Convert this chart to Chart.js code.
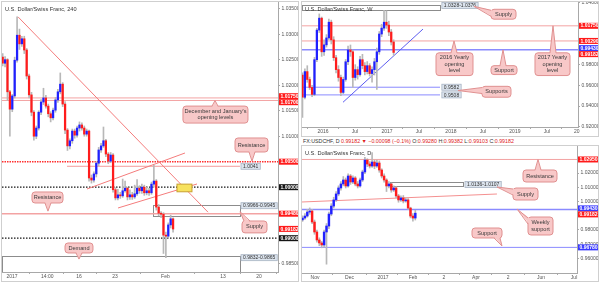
<!DOCTYPE html>
<html>
<head>
<meta charset="utf-8">
<script src="https://cdn.jsdelivr.net/npm/chart.js@4.4.0/dist/chart.umd.min.js"></script>
<style>
body { margin:0; width:600px; height:282px; background:#fff; position:relative; overflow:hidden; font-family:"Liberation Sans", Arial, sans-serif; }
.pane { position:absolute; border:1px solid #cfcfcf; }
.pane canvas { display:block; }
#head { position:absolute; left:303px; top:137px; font-size:5.3px; line-height:8px; color:#333; white-space:nowrap; }
#head .r { color:#e02020; }
</style>
</head>
<body>
<div class="pane" style="left:1px;top:1px;width:296px;height:279px"><canvas id="h4" width="296" height="279"></canvas></div>
<div class="pane" style="left:301px;top:1px;width:296px;height:134px"><canvas id="wk" width="296" height="134"></canvas></div>
<div id="head">FX:USDCHF, D <span class="r">0.99182 ▼ −0.00098 (−0.1%)</span> O:<span class="r">0.99280</span> H:<span class="r">0.99382</span> L:<span class="r">0.99103</span> C:<span class="r">0.99182</span></div>
<div class="pane" style="left:301px;top:145px;width:296px;height:135px"><canvas id="dy" width="296" height="135"></canvas></div>
<script>
const FONT = '"Liberation Sans", Arial, sans-serif';
const UP = '#2020ff', DOWN = '#ff1c1c', WICK = '#b8b8b8';
const PINK = '#f3a3a3', RED = '#ff1a1a', BLUE = '#8a8aff', DARK = '#151515';

// ---- 240 (4 hour) candles, two bars per candle ----
const h4FirstOpen = 1.0255;
const h4Close = [1.0243, 1.0250, 1.0187, 1.0153, 1.0179, 1.0249, 1.0298, 1.0281, 1.0291, 1.0269,
  1.0218, 1.0181, 1.0147, 1.0100, 1.0116, 1.0147, 1.0167, 1.0175, 1.0159, 1.0144,
  1.0136, 1.0151, 1.0171, 1.0187, 1.0202, 1.0163, 1.0112, 1.0081, 1.0091, 1.0110,
  1.0102, 1.0116, 1.0122, 1.0116, 1.0104, 1.0110, 1.0018, 1.0014, 1.0026, 1.0047,
  1.0073, 1.0081, 1.0091, 1.0065, 1.0051, 1.0063, 0.9995, 0.9979, 0.9985, 0.9983,
  0.9993, 0.9998, 0.9981, 0.9985, 0.9981, 0.9987, 0.9998, 0.9993, 1.0000, 0.9989,
  0.9993, 0.9989, 1.0006, 1.0012, 0.9961, 0.9949, 0.9947, 0.9906, 0.9904, 0.9926,
  0.9938, 0.9918];
const h4High = [1.0262, 1.0256, 1.0252, 1.0190, 1.0182, 1.0255, 1.0334, 1.0310, 1.0296, 1.0296,
  1.0272, 1.0222, 1.0186, 1.0150, 1.0120, 1.0150, 1.0172, 1.0194, 1.0180, 1.0163,
  1.0148, 1.0155, 1.0176, 1.0192, 1.0224, 1.0205, 1.0168, 1.0115, 1.0095, 1.0114,
  1.0114, 1.0120, 1.0128, 1.0126, 1.0120, 1.0114, 1.0112, 1.0024, 1.0030, 1.0050,
  1.0078, 1.0086, 1.0118, 1.0094, 1.0068, 1.0068, 1.0066, 0.9999, 0.9996, 0.9990,
  1.0016, 1.0012, 1.0000, 0.9995, 0.9990, 1.0004, 1.0015, 1.0003, 1.0006, 1.0004,
  1.0000, 0.9998, 1.0010, 1.0043, 1.0015, 0.9966, 0.9952, 0.9950, 0.9912, 0.9930,
  0.9945, 0.9940];
const h4Low = [1.0238, 1.0236, 1.0170, 1.0100, 1.0148, 1.0175, 1.0245, 1.0270, 1.0276, 1.0262,
  1.0212, 1.0175, 1.0140, 1.0092, 1.0095, 1.0112, 1.0142, 1.0162, 1.0155, 1.0138,
  1.0128, 1.0132, 1.0147, 1.0166, 1.0183, 1.0158, 1.0105, 1.0072, 1.0075, 1.0086,
  1.0096, 1.0098, 1.0110, 1.0112, 1.0100, 1.0100, 1.0012, 1.0008, 1.0010, 1.0020,
  1.0042, 1.0068, 1.0078, 1.0060, 1.0046, 1.0048, 0.9990, 0.9975, 0.9975, 0.9978,
  0.9980, 0.9990, 0.9975, 0.9976, 0.9976, 0.9978, 0.9984, 0.9988, 0.9988, 0.9984,
  0.9985, 0.9984, 0.9986, 1.0000, 0.9955, 0.9944, 0.9940, 0.9870, 0.9862, 0.9900,
  0.9920, 0.9912];
const h4TickPos = [0.7, 5.6, 10, 15, 22, 30, 35];
const h4TickText = ['2017', '14:00', '16', '23', 'Feb', '13', '20'];
const h4PriceTicks = [1.035, 1.03, 1.025, 1.02, 1.015, 1.01, 0.985];

// ---- weekly candles ----
const wkFirstOpen = 0.9700;
const wkClose = [0.9485, 0.9733, 0.9657, 0.9580, 0.9513, 0.9848, 1.0134, 1.0249, 0.9924, 0.9991,
  1.0058, 1.0210, 1.0039, 0.9867, 0.9752, 0.9676, 0.9532, 0.9657, 0.9828, 0.9943,
  0.9924, 0.9676, 0.9752, 0.9704, 0.9848, 0.9790, 0.9733, 0.9790, 0.9714, 0.9752,
  0.9828, 0.9924, 1.0096, 1.0153, 1.0210, 1.0182, 1.0115, 1.0019, 0.9918];
const wkHigh = [0.9720, 0.9760, 0.9790, 0.9680, 0.9600, 0.9870, 1.0150, 1.0290, 1.0260, 1.0040,
  1.0090, 1.0240, 1.0230, 1.0070, 0.9890, 0.9790, 0.9700, 0.9680, 0.9850, 0.9980,
  0.9990, 0.9940, 0.9800, 0.9780, 0.9880, 0.9900, 0.9820, 0.9830, 0.9810, 0.9780,
  0.9860, 0.9960, 1.0120, 1.0190, 1.0325, 1.0320, 1.0220, 1.0140, 1.0040];
const wkLow = [0.9290, 0.9470, 0.9630, 0.9560, 0.9490, 0.9500, 0.9830, 1.0110, 0.9880, 0.9890,
  0.9970, 1.0040, 1.0000, 0.9840, 0.9720, 0.9640, 0.9500, 0.9520, 0.9640, 0.9800,
  0.9880, 0.9580, 0.9650, 0.9660, 0.9690, 0.9760, 0.9700, 0.9710, 0.9690, 0.9630,
  0.9700, 0.9560, 0.9900, 1.0070, 1.0130, 1.0150, 1.0080, 0.9990, 0.9890];
const wkTickPos = [0, 6, 12, 18, 24, 30, 36, 42, 47.6];
const wkTickText = ['2016', 'Jul', '2017', 'Jul', '2018', 'Jul', '2019', 'Jul', '20'];
const wkPriceTicks = [1.04, 0.98, 0.96, 0.94, 0.92];

// ---- daily candles ----
const dFirstOpen = 0.9870;
const dClose = [0.9884, 0.9898, 0.9926, 0.9933, 0.9856, 0.9786, 0.9730, 0.9709, 0.9695, 0.9786,
  0.9828, 0.9912, 0.9968, 1.0011, 1.0053, 1.0095, 1.0123, 1.0151, 1.0109, 1.0179,
  1.0137, 1.0165, 1.0123, 1.0109, 1.0151, 1.0207, 1.0291, 1.0263, 1.0249, 1.0277,
  1.0249, 1.0270, 1.0221, 1.0179, 1.0151, 1.0109, 1.0123, 1.0081, 1.0095, 1.0039,
  1.0011, 1.0025, 1.0004, 1.0011, 0.9954, 0.9898, 0.9884, 0.9918];
const dHigh = [0.9900, 0.9915, 0.9945, 0.9955, 0.9945, 0.9870, 0.9800, 0.9745, 0.9720, 0.9800,
  0.9845, 0.9925, 0.9985, 1.0030, 1.0070, 1.0110, 1.0140, 1.0175, 1.0165, 1.0195,
  1.0190, 1.0180, 1.0175, 1.0140, 1.0165, 1.0220, 1.0310, 1.0300, 1.0280, 1.0344,
  1.0290, 1.0290, 1.0285, 1.0230, 1.0195, 1.0160, 1.0140, 1.0130, 1.0110, 1.0105,
  1.0050, 1.0040, 1.0042, 1.0025, 1.0020, 0.9960, 0.9915, 0.9938];
const dLow = [0.9860, 0.9875, 0.9890, 0.9910, 0.9845, 0.9770, 0.9715, 0.9690, 0.9675, 0.9680,
  0.9560, 0.9810, 0.9900, 0.9955, 1.0000, 1.0040, 1.0080, 1.0110, 1.0095, 1.0100,
  1.0120, 1.0125, 1.0110, 1.0095, 1.0100, 1.0140, 1.0195, 1.0245, 1.0235, 1.0240,
  1.0230, 1.0240, 1.0205, 1.0165, 1.0135, 1.0070, 1.0095, 1.0065, 1.0070, 1.0025,
  0.9995, 1.0000, 0.9990, 0.9995, 0.9945, 0.9885, 0.9862, 0.9870];
const dTickPos = [0, 23, 45.3, 65.3, 86, 107.3, 128.7, 150.7, 172.7];
const dTickText = ['Nov', 'Dec', '2017', 'Feb', '2', 'Apr', '2', 'Jun', 'Jul'];
const dPriceTicks = [1.02, 1.01, 1.00, 0.98, 0.97, 0.96];

function rrect(ctx, x, y, w, h, r) {
  ctx.beginPath();
  ctx.moveTo(x + r, y);
  ctx.lineTo(x + w - r, y); ctx.quadraticCurveTo(x + w, y, x + w, y + r);
  ctx.lineTo(x + w, y + h - r); ctx.quadraticCurveTo(x + w, y + h, x + w - r, y + h);
  ctx.lineTo(x + r, y + h); ctx.quadraticCurveTo(x, y + h, x, y + h - r);
  ctx.lineTo(x, y + r); ctx.quadraticCurveTo(x, y, x + r, y);
  ctx.closePath();
}

function callout(ctx, X, Y, c) {
  const l = X(c.x1), r = X(c.x2), t = Y(c.y1), b = Y(c.y2);
  const tx = X(c.tx), ty = Y(c.ty), hw = 3;
  const dx = tx < l ? l - tx : (tx > r ? tx - r : 0);
  const dy = ty < t ? t - ty : (ty > b ? ty - b : 0);
  let p1, p2, q1, q2;
  if (dy >= dx) {
    const cx = Math.min(Math.max(tx, l + hw + 2), r - hw - 2);
    const ey = ty < t ? t : b, inn = ty < t ? 1.2 : -1.2;
    p1 = [cx - hw, ey]; p2 = [cx + hw, ey]; q1 = [cx - hw, ey + inn]; q2 = [cx + hw, ey + inn];
  } else {
    const cy = Math.min(Math.max(ty, t + hw + 1), b - hw - 1);
    const ex = tx < l ? l : r, inn = tx < l ? 1.2 : -1.2;
    p1 = [ex, cy - hw]; p2 = [ex, cy + hw]; q1 = [ex + inn, cy - hw]; q2 = [ex + inn, cy + hw];
  }
  ctx.fillStyle = '#f8c8c8'; ctx.strokeStyle = '#e09090'; ctx.lineWidth = 1;
  rrect(ctx, l, t, r - l, b - t, 3); ctx.fill(); ctx.stroke();
  ctx.beginPath(); ctx.moveTo(q1[0], q1[1]); ctx.lineTo(tx, ty); ctx.lineTo(q2[0], q2[1]); ctx.closePath(); ctx.fill();
  ctx.beginPath(); ctx.moveTo(p1[0], p1[1]); ctx.lineTo(tx, ty); ctx.lineTo(p2[0], p2[1]); ctx.stroke();
  ctx.fillStyle = '#3a3a3a'; ctx.font = '5.6px ' + FONT; ctx.textAlign = 'center'; ctx.textBaseline = 'middle';
  const lh = 6.4, y0 = (t + b) / 2 - (c.text.length - 1) * lh / 2;
  c.text.forEach((s, k) => ctx.fillText(s, (l + r) / 2, y0 + k * lh));
}

function overlay(p) {
  return {
    id: 'ov_' + p.id,
    beforeDatasetsDraw(chart) {
      const ctx = chart.ctx, a = chart.chartArea;
      const X = v => chart.scales.x.getPixelForValue(v), Y = v => chart.scales.y.getPixelForValue(v);
      ctx.save();
      ctx.beginPath(); ctx.rect(a.left, a.top, a.right - a.left, a.bottom - a.top); ctx.clip();
      (p.zones || []).forEach(z => {
        ctx.strokeStyle = '#8c8c8c'; ctx.lineWidth = 1;
        ctx.strokeRect(Math.round(X(z.x1)) + 0.5, Math.round(Y(z.hi)) + 0.5, Math.round(X(z.x2) - X(z.x1)), Math.round(Y(z.lo) - Y(z.hi)));
      });
      (p.lines || []).forEach(h => {
        const x1 = h.x1 === undefined ? a.left : X(h.x1), x2 = h.x2 === undefined ? a.right : X(h.x2);
        const y = Y(h.v);
        ctx.strokeStyle = h.c; ctx.lineWidth = h.w; ctx.setLineDash(h.dash || []);
        ctx.beginPath(); ctx.moveTo(x1, y); ctx.lineTo(x2, y); ctx.stroke();
      });
      ctx.setLineDash([]);
      (p.trends || []).forEach(t => {
        ctx.strokeStyle = t.c; ctx.lineWidth = 1;
        ctx.beginPath(); ctx.moveTo(X(t.x1), Y(t.v1)); ctx.lineTo(X(t.x2), Y(t.v2)); ctx.stroke();
      });
      ctx.restore();
    },
    afterDraw(chart) {
      const ctx = chart.ctx, a = chart.chartArea;
      const X = v => chart.scales.x.getPixelForValue(v), Y = v => chart.scales.y.getPixelForValue(v);
      ctx.save();
      (p.boxes || []).forEach(bx => {
        ctx.fillStyle = '#f7e25e'; ctx.strokeStyle = '#c8a030'; ctx.lineWidth = 1;
        ctx.fillRect(X(bx.x1), Y(bx.hi), X(bx.x2) - X(bx.x1), Y(bx.lo) - Y(bx.hi));
        ctx.strokeRect(X(bx.x1), Y(bx.hi), X(bx.x2) - X(bx.x1), Y(bx.lo) - Y(bx.hi));
      });
      ctx.font = '5px ' + FONT; ctx.textBaseline = 'middle'; ctx.textAlign = 'left';
      (p.zoneTags || []).forEach(z => {
        const w = ctx.measureText(z.text).width + 4, x = X(z.x), y = Y(z.v);
        ctx.fillStyle = '#dce4ee'; ctx.strokeStyle = '#a8b4c4'; ctx.lineWidth = 0.8;
        ctx.fillRect(x, y - 3, w, 6); ctx.strokeRect(x, y - 3, w, 6);
        ctx.fillStyle = '#333'; ctx.fillText(z.text, x + 2, y + 0.3);
      });
      (p.callouts || []).forEach(c => callout(ctx, X, Y, c));
      // title
      ctx.fillStyle = '#333'; ctx.font = '5.6px ' + FONT; ctx.textAlign = 'left'; ctx.textBaseline = 'middle';
      ctx.fillText(p.title, a.left + 3, a.top + 7);
      // price tags on the axis
      const H = 6;
      const tags = p.tags.map(t => Object.assign({ y: Y(t.v) }, t)).sort((m, n) => m.y - n.y);
      for (let pass = 0; pass < 4; pass++) {
        for (let k = 1; k < tags.length; k++) {
          if (tags[k].y - tags[k - 1].y < H) {
            const mid = (tags[k].y + tags[k - 1].y) / 2;
            tags[k - 1].y = mid - H / 2; tags[k].y = mid + H / 2;
          }
        }
      }
      ctx.font = 'bold 5px ' + FONT;
      tags.forEach(t => {
        ctx.fillStyle = t.bg;
        ctx.fillRect(a.right + 1, t.y - H / 2, chart.width - a.right - 1, H);
        ctx.fillStyle = '#fff';
        ctx.fillText(t.text, a.right + 2.5, t.y + 0.3);
      });
      ctx.restore();
    }
  };
}

function makeChart(p) {
  const xs = p.close.map((c, i) => p.start + p.step * i);
  const opens = p.close.map((c, i) => i ? p.close[i - 1] : p.firstOpen);
  return new Chart(document.getElementById(p.id), {
    type: 'bar',
    data: {
      datasets: [
        { data: xs.map((x, i) => ({ x: x, y: [p.low[i], p.high[i]] })), backgroundColor: WICK,
          barThickness: 1, grouped: false, order: 2 },
        { data: xs.map((x, i) => ({ x: x, y: [opens[i], p.close[i]] })),
          backgroundColor: p.close.map((c, i) => c >= opens[i] ? UP : DOWN),
          barThickness: p.bodyW, grouped: false, minBarLength: 1, order: 1 }
      ]
    },
    options: {
      responsive: false, animation: false, devicePixelRatio: 1,
      layout: { padding: 0 },
      plugins: { legend: { display: false }, tooltip: { enabled: false } },
      scales: {
        x: {
          type: 'linear', min: p.xMin, max: p.xMax, offset: false,
          grid: { color: 'rgba(0,0,0,0)', drawOnChartArea: false, tickColor: '#aaa', tickLength: 2 },
          border: { display: true, color: '#a8a8a8' },
          ticks: { autoSkip: false, maxRotation: 0, padding: 0, color: '#555', font: { family: FONT, size: 5 },
            callback: (v, i) => p.xText[i] },
          afterBuildTicks: ax => { ax.ticks = p.xPos.map(v => ({ value: v })); },
          afterFit: ax => { ax.height = p.xH; ax.paddingLeft = 0; ax.paddingRight = 0; }
        },
        y: {
          position: 'right', min: p.yMin, max: p.yMax,
          grid: { color: 'rgba(0,0,0,0)', drawOnChartArea: false, tickColor: '#aaa', tickLength: 2 },
          border: { display: true, color: '#a8a8a8' },
          ticks: { padding: 1.5, color: '#555', font: { family: FONT, size: 5 }, callback: v => v.toFixed(5) },
          afterBuildTicks: ax => { ax.ticks = p.yTicks.map(v => ({ value: v })); },
          afterFit: ax => { ax.width = p.yW; ax.paddingTop = 0; ax.paddingBottom = 0; }
        }
      }
    },
    plugins: [overlay(p)]
  });
}

makeChart({
  id: 'h4', title: 'U.S. Dollar/Swiss Franc, 240',
  start: -0.6, step: 1 / 3, bodyW: 1.6,
  firstOpen: h4FirstOpen, close: h4Close, high: h4High, low: h4Low,
  xMin: -0.694, xMax: 37.64, yMin: 0.98337, yMax: 1.03631, xH: 9, yW: 20,
  xPos: h4TickPos, xText: h4TickText, yTicks: h4PriceTicks,
  zones: [
    { x1: 20.28, x2: 32.36, lo: 0.9945, hi: 0.9966 },
    { x1: -0.694, x2: 32.36, lo: 0.9832, hi: 0.9865 }
  ],
  lines: [
    { v: 1.0175, c: PINK, w: 1 }, { v: 1.0170, c: PINK, w: 1 },
    { v: 1.0050, c: '#ff3030', w: 1.5, dash: [1.5, 1] },
    { v: 1.0041, x1: 8.33, x2: 32.36, c: '#f29a9a', w: 1 },
    { v: 1.0000, c: DARK, w: 1.2, dash: [1.5, 1.5] },
    { v: 0.9948, c: PINK, w: 1.5 },
    { v: 0.9900, c: DARK, w: 1.2, dash: [1.5, 1.5] }
  ],
  trends: [
    { x1: 1.53, v1: 1.0334, x2: 27.92, v2: 0.9951, c: '#f47c7c' },
    { x1: 11.11, v1: 0.99965, x2: 24.72, v2: 1.0067, c: '#f47c7c' },
    { x1: 15.42, v1: 0.99592, x2: 26.39, v2: 1.00063, c: '#f47c7c' }
  ],
  boxes: [{ x1: 23.61, x2: 25.69, lo: 0.9991, hi: 1.0006 }],
  zoneTags: [
    { x: 32.5, v: 1.0041, text: '1.0041' },
    { x: 32.5, v: 0.99637, text: '0.9966-0.9945' },
    { x: 32.5, v: 0.98618, text: '0.9832-0.9865' }
  ],
  callouts: [
    { x1: 24.44, x2: 33.47, y1: 1.0159, y2: 1.01257, tx: 28.89, ty: 1.0170, text: ["December and January's", 'opening levels'] },
    { x1: 31.67, x2: 36.25, y1: 1.00965, y2: 1.0069, tx: 34.03, ty: 1.0051, text: ['Resistance'] },
    { x1: 3.47, x2: 7.78, y1: 0.99906, y2: 0.9969, tx: 5.69, ty: 0.9953, text: ['Resistance'] },
    { x1: 32.64, x2: 36.11, y1: 0.99337, y2: 0.99104, tx: 32.36, ty: 0.9952, text: ['Supply'] },
    { x1: 8.06, x2: 11.94, y1: 0.98906, y2: 0.9871, tx: 10.0, ty: 0.9859, text: ['Demand'] }
  ],
  tags: [
    { v: 1.0175, bg: RED, text: '1.01750' }, { v: 1.0170, bg: RED, text: '1.01700' },
    { v: 1.0050, bg: RED, text: '1.00500' }, { v: 1.0000, bg: DARK, text: '1.00000' },
    { v: 0.9948, bg: RED, text: '0.99480' }, { v: 0.99182, bg: RED, text: '0.99182' },
    { v: 0.9900, bg: DARK, text: '0.99000' }
  ]
});

makeChart({
  id: 'wk', title: 'U.S. Dollar/Swiss Franc, W',
  start: -3.85, step: 0.45, bodyW: 1.6,
  firstOpen: wkFirstOpen, close: wkClose, high: wkHigh, low: wkLow,
  xMin: -3.94, xMax: 47.84, yMin: 0.9198, yMax: 1.0405, xH: 9, yW: 20,
  xPos: wkTickPos, xText: wkTickText, yTicks: wkPriceTicks,
  zones: [{ x1: -3.94, x2: 21.95, lo: 1.0328, hi: 1.0376 }],
  lines: [
    { v: 1.0175, c: PINK, w: 1 }, { v: 1.0029, c: PINK, w: 1 },
    { v: 0.9943, c: BLUE, w: 1.5 },
    { v: 0.9582, x2: 21.95, c: BLUE, w: 1 }, { v: 0.9508, x2: 21.95, c: BLUE, w: 1 }
  ],
  trends: [{ x1: 3.75, v1: 0.94368, x2: 18.76, v2: 1.01436, c: '#5c5cf0' }],
  zoneTags: [
    { x: 22.3, v: 1.0372, text: '1.0328-1.0376' },
    { x: 22.3, v: 0.9582, text: '0.9582' },
    { x: 22.3, v: 0.9508, text: '0.9508' }
  ],
  callouts: [
    { x1: 31.52, x2: 36.21, y1: 1.03346, y2: 1.02391, tx: 28.33, ty: 1.0363, text: ['Supply'] },
    { x1: 21.2, x2: 28.14, y1: 0.99143, y2: 0.96947, tx: 24.58, ty: 1.0029, text: ['2016 Yearly', 'opening', 'level'] },
    { x1: 31.52, x2: 36.4, y1: 0.97902, y2: 0.97042, tx: 33.77, ty: 0.9943, text: ['Support'] },
    { x1: 39.77, x2: 46.34, y1: 0.99143, y2: 0.96947, tx: 43.15, ty: 1.0175, text: ['2017 Yearly', 'opening', 'level'] },
    { x1: 29.83, x2: 35.27, y1: 0.95908, y2: 0.94857, tx: 25.33, ty: 0.9550, text: ['Supports'] }
  ],
  tags: [
    { v: 1.0175, bg: RED, text: '1.01750' }, { v: 1.0029, bg: RED, text: '1.00290' },
    { v: 0.9943, bg: '#3a3aff', text: '0.99430' }, { v: 0.99182, bg: RED, text: '0.99182' }
  ]
});

makeChart({
  id: 'dy', title: 'U.S. Dollar/Swiss Franc, D',
  start: -8.33, step: 1.6, bodyW: 1.8,
  firstOpen: dFirstOpen, close: dClose, high: dHigh, low: dLow,
  xMin: -8.67, xMax: 174.67, yMin: 0.94982, yMax: 1.03895, xH: 8, yW: 21,
  xPos: dTickPos, xText: dTickText, yTicks: dPriceTicks,
  zones: [{ x1: 50, x2: 98.67, lo: 1.0107, hi: 1.0136 }],
  lines: [
    { v: 1.0295, c: PINK, w: 1 },
    { v: 0.9943, c: BLUE, w: 1.5 },
    { v: 0.9678, c: BLUE, w: 1 }
  ],
  trends: [{ x1: -8.67, v1: 0.99965, x2: 121.3, v2: 1.00526, c: '#f49090' }],
  zoneTags: [{ x: 100, v: 1.0119, text: '1.0136-1.0107' }],
  callouts: [
    { x1: 138.67, x2: 161.33, y1: 1.02211, y2: 1.01368, tx: 148.67, ty: 1.0295, text: ['Resistance'] },
    { x1: 132, x2: 148.67, y1: 1.00947, y2: 1.00105, tx: 121.33, ty: 1.01018, text: ['Supply'] },
    { x1: 142, x2: 158.67, y1: 0.98912, y2: 0.97649, tx: 134.67, ty: 0.99474, text: ['Weekly', 'support'] },
    { x1: 104.67, x2: 124.67, y1: 0.9814, y2: 0.97439, tx: 124.67, ty: 0.9688, text: ['Support'] }
  ],
  tags: [
    { v: 1.0295, bg: RED, text: '1.02950' }, { v: 0.9943, bg: '#3a3aff', text: '0.99430' },
    { v: 0.99182, bg: RED, text: '0.99182' }, { v: 0.9678, bg: '#3a3aff', text: '0.96780' }
  ]
});
</script>
</body>
</html>
